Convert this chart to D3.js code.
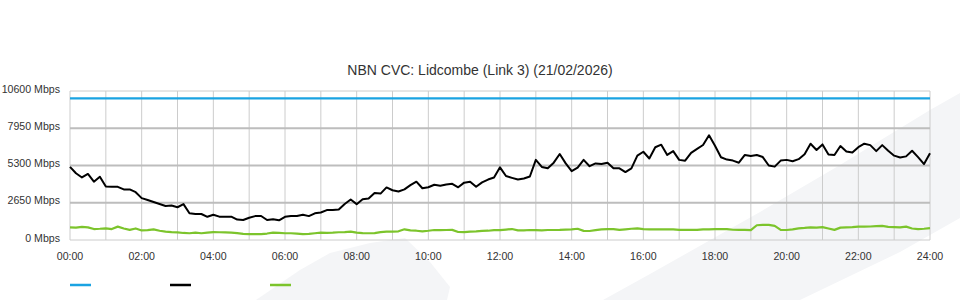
<!DOCTYPE html>
<html>
<head>
<meta charset="utf-8">
<script src="https://cdn.jsdelivr.net/npm/d3@7"></script>
<style>
  html, body { margin: 0; padding: 0; background: #fff; }
  svg { display: block; font-family: "Liberation Sans", Arial, sans-serif; }
  .title { font-size: 14px; fill: #333; }
  .tick-label { font-size: 10.6px; fill: #333; }
</style>
</head>
<body>
<svg id="chart" width="960" height="300"></svg>
<script>
// 10-minute samples, 00:00 .. 24:00 (145 values), Mbps
const sampleMinutes = 10;

const capacity = 10080;

const traffic = [
  5200, 4750, 4450, 4700, 4150, 4500, 3800, 3780, 3780, 3600, 3600, 3400,
  2980, 2850, 2700, 2560, 2420, 2450, 2330, 2550, 1900, 1850, 1850, 1650,
  1800, 1660, 1660, 1660, 1450, 1420, 1580, 1700, 1710, 1420, 1480, 1400,
  1650, 1710, 1710, 1800, 1700, 1900, 1960, 2130, 2140, 2170, 2560, 2880,
  2550, 2900, 2950, 3350, 3300, 3740, 3540, 3450, 3600, 3900, 4150, 3680,
  3750, 3930, 3860, 3950, 4000, 3750, 4080, 4150, 3790, 4100, 4300, 4450,
  5170, 4550, 4420, 4300, 4380, 4520, 5700, 5200, 5100, 5500, 6120, 5450,
  4900, 5150, 5700, 5250, 5450, 5400, 5500, 5100, 5100, 4830, 5100, 6000,
  6280, 5800, 6600, 6780, 6050, 6320, 5700, 5640, 6200, 6480, 6760, 7450,
  6700, 5890, 5720, 5650, 5500, 6050, 5980, 6050, 5900, 5300, 5220, 5650,
  5700, 5600, 5750, 6100, 6850, 6400, 6800, 6080, 6050, 6690, 6300, 6220,
  6600, 6850, 6750, 6320, 6750, 6350, 6000, 5870, 5950, 6350, 5900, 5400,
  6170
];

const multicast = [
  900, 880, 930, 900, 780, 800, 830, 780, 950, 820, 720, 820,
  680, 700, 760, 660, 600, 560, 540, 500, 480, 520, 480, 520,
  560, 550, 540, 520, 490, 440, 420, 420, 420, 460, 520, 500,
  480, 480, 460, 420, 430, 480, 520, 500, 520, 550, 560, 590,
  520, 490, 480, 490, 560, 590, 590, 620, 760, 680, 660, 620,
  660, 710, 700, 710, 720, 570, 560, 600, 620, 650, 660, 700,
  700, 740, 780, 680, 690, 710, 700, 690, 710, 710, 720, 740,
  760, 800, 650, 640, 700, 760, 780, 780, 720, 760, 800, 830,
  770, 760, 760, 750, 760, 760, 720, 720, 720, 720, 760, 760,
  780, 780, 770, 730, 720, 720, 700, 1050, 1070, 1070, 1000, 720,
  710, 760, 830, 860, 900, 880, 920, 820, 720, 880, 900, 920,
  950, 950, 960, 990, 1000, 940, 920, 900, 950, 820, 780, 800,
  850
];

const yTicks = [0, 2650, 5300, 7950, 10600];
const xTicks = [0, 2, 4, 6, 8, 10, 12, 14, 16, 18, 20, 22, 24];
const hourGrid = d3.range(0, 25);

const title = "NBN CVC: Lidcombe (Link 3) (21/02/2026)";

const seriesColors = ["#1aa3e2", "#000000", "#7cc42c"];

const svg = d3.select("#chart");
const margin = { left: 70, right: 30, top: 91, bottom: 60 };
const W = 960, H = 300;

const x = d3.scaleLinear().domain([0, 24]).range([margin.left, W - margin.right]);
const y = d3.scaleLinear().domain([0, 10600]).range([H - margin.bottom, margin.top]);

// faint watermark shapes in the background
const bg = svg.append("g").attr("fill", "#f4f5f7");
bg.append("path").attr("d", "M256,300 L300,270 L330,253 L370,243 L405,238 L430,262 L450,287 L447,300 Z");
bg.append("path").attr("d", "M603,300 L650,274 L760,212 L840,165 L930,110 L960,93 L960,218 L900,252 L800,300 Z");

// grid
const grid = svg.append("g");
grid.selectAll("line.v")
  .data(hourGrid)
  .join("line")
  .attr("class", "v")
  .attr("x1", (d) => x(d)).attr("x2", (d) => x(d))
  .attr("y1", y(10600)).attr("y2", y(0))
  .attr("stroke", "#cccccc")
  .attr("stroke-width", 1);

grid.selectAll("line.h")
  .data(yTicks)
  .join("line")
  .attr("class", "h")
  .attr("x1", x(0)).attr("x2", x(24))
  .attr("y1", (d) => y(d)).attr("y2", (d) => y(d))
  .attr("stroke", (d) => (d === 0 || d === 10600 ? "#cccccc" : "#bdbdbd"))
  .attr("stroke-width", (d) => (d === 0 || d === 10600 ? 1 : 2));

// axis labels
svg.append("g")
  .selectAll("text")
  .data(yTicks)
  .join("text")
  .attr("class", "tick-label")
  .attr("x", 60)
  .attr("y", (d) => y(d) - 2)
  .attr("dy", "0.35em")
  .attr("text-anchor", "end")
  .text((d) => d + " Mbps");

svg.append("g")
  .selectAll("text")
  .data(xTicks)
  .join("text")
  .attr("class", "tick-label")
  .attr("x", (d) => x(d))
  .attr("y", 260)
  .attr("text-anchor", "middle")
  .text((d) => String(d).padStart(2, "0") + ":00");

svg.append("text")
  .attr("class", "title")
  .attr("x", 480)
  .attr("y", 75)
  .attr("text-anchor", "middle")
  .text(title);

// series
const hours = (i) => (i * sampleMinutes) / 60;
const line = d3.line().x((d, i) => x(hours(i))).y((d) => y(d));

svg.append("line")
  .attr("x1", x(0)).attr("x2", x(24))
  .attr("y1", y(capacity)).attr("y2", y(capacity))
  .attr("stroke", seriesColors[0])
  .attr("stroke-width", 2.2);

svg.append("path")
  .datum(multicast)
  .attr("d", line)
  .attr("fill", "none")
  .attr("stroke", seriesColors[2])
  .attr("stroke-width", 2.2)
  .attr("stroke-linejoin", "round");

svg.append("path")
  .datum(traffic)
  .attr("d", line)
  .attr("fill", "none")
  .attr("stroke", seriesColors[1])
  .attr("stroke-width", 2)
  .attr("stroke-linejoin", "round");

// legend swatches (labels are blank in the source)
svg.append("g")
  .selectAll("line")
  .data(seriesColors)
  .join("line")
  .attr("x1", (d, i) => 70 + i * 100)
  .attr("x2", (d, i) => 91 + i * 100)
  .attr("y1", 285).attr("y2", 285)
  .attr("stroke", (d) => d)
  .attr("stroke-width", 2.5);
</script>
</body>
</html>
